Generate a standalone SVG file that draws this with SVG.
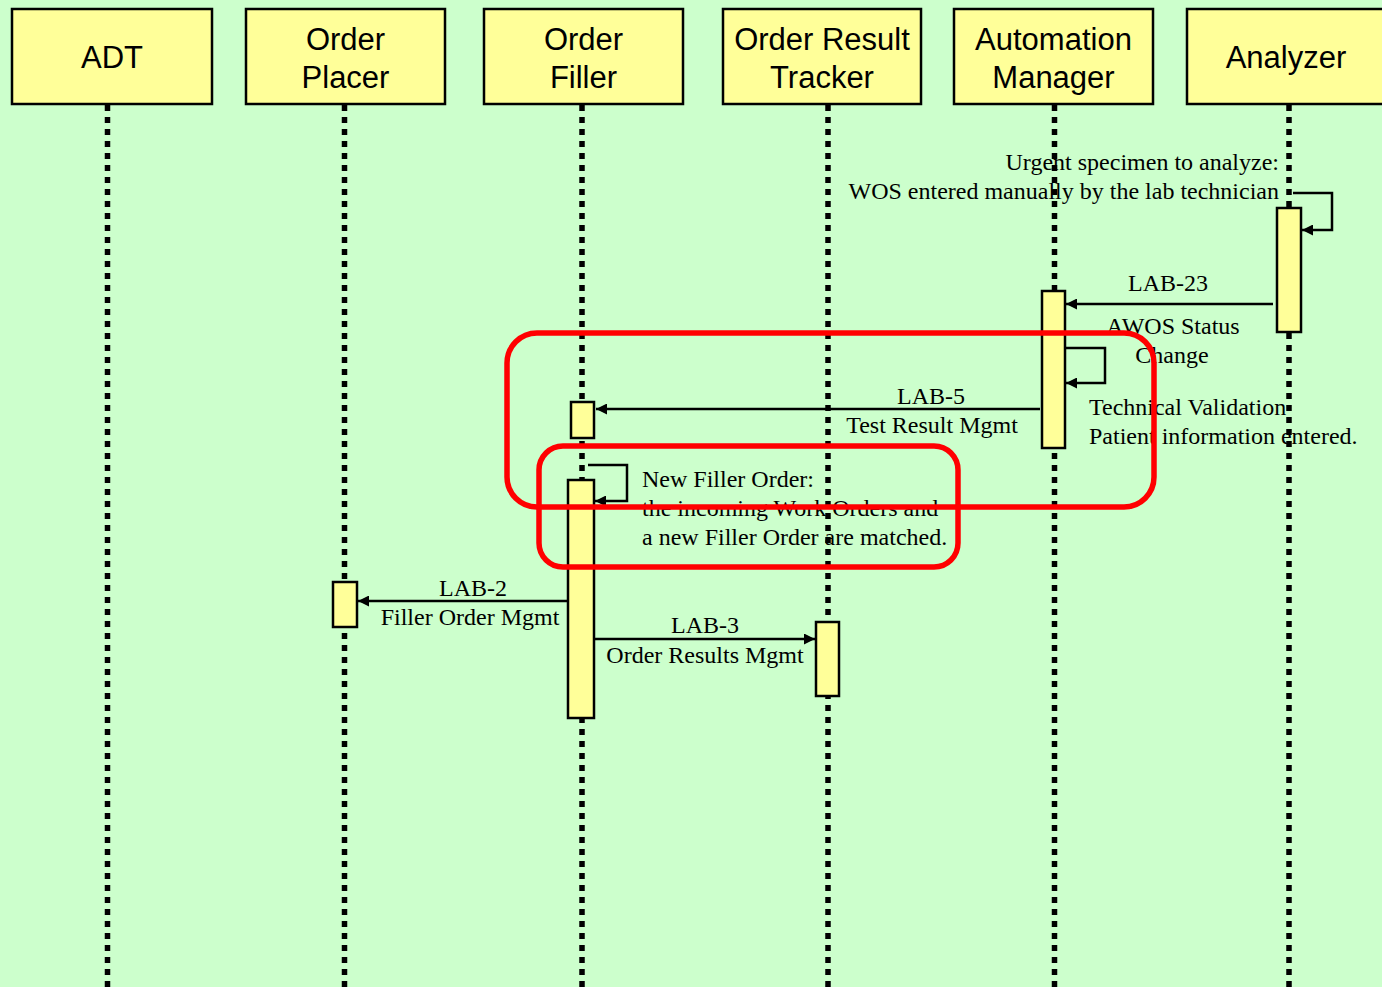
<svg xmlns="http://www.w3.org/2000/svg" width="1382" height="987" viewBox="0 0 1382 987">
<defs>
<marker id="ah" viewBox="0 0 10 10" refX="10" refY="5" markerWidth="11" markerHeight="11" markerUnits="userSpaceOnUse" orient="auto">
<path d="M0,0 L10,5 L0,10 z" fill="#000"/>
</marker>
<style>
.hdr{fill:#FFFF99;stroke:#000;stroke-width:2.5}
.ht{font-family:"Liberation Sans",Arial,sans-serif;font-size:31px;fill:#000;text-anchor:middle}
.life{stroke:#000;stroke-width:5.5;stroke-dasharray:6 6;fill:none}
.act{fill:#FFFF99;stroke:#000;stroke-width:2.5}
.msg{stroke:#000;stroke-width:2.5;fill:none;marker-end:url(#ah)}
.lt{font-family:"Liberation Serif","Times New Roman",serif;font-size:24px;fill:#000}
.c{text-anchor:middle}
.e{text-anchor:end}
.hl{fill:none;stroke:#FF0000;stroke-width:5.5}
</style>
</defs>
<rect x="0" y="0" width="1382" height="987" fill="#CCFFCC"/>

<g id="lifelines">
<line class="life" x1="107.5" y1="105" x2="107.5" y2="987"/>
<line class="life" x1="344.5" y1="105" x2="344.5" y2="987"/>
<line class="life" x1="582" y1="105" x2="582" y2="987"/>
<line class="life" x1="828" y1="105" x2="828" y2="987"/>
<line class="life" x1="1054.5" y1="105" x2="1054.5" y2="987"/>
<line class="life" x1="1289" y1="105" x2="1289" y2="987"/>
</g>

<g id="adt">
<rect class="hdr" x="12" y="9" width="200" height="95"/>
<text class="ht" x="112" y="68">ADT</text>
</g>
<g id="order-placer">
<rect class="hdr" x="246" y="9" width="199" height="95"/>
<text class="ht" x="345.5" y="50">Order</text>
<text class="ht" x="345.5" y="88">Placer</text>
</g>
<g id="order-filler">
<rect class="hdr" x="484" y="9" width="199" height="95"/>
<text class="ht" x="583.5" y="50">Order</text>
<text class="ht" x="583.5" y="88">Filler</text>
</g>
<g id="order-result-tracker">
<rect class="hdr" x="723" y="9" width="198" height="95"/>
<text class="ht" x="822" y="50">Order Result</text>
<text class="ht" x="822" y="88">Tracker</text>
</g>
<g id="automation-manager">
<rect class="hdr" x="954" y="9" width="199" height="95"/>
<text class="ht" x="1053.5" y="50">Automation</text>
<text class="ht" x="1053.5" y="88">Manager</text>
</g>
<g id="analyzer">
<rect class="hdr" x="1187" y="9" width="200" height="95"/>
<text class="ht" x="1286" y="68">Analyzer</text>
</g>

<g id="activations">
<rect class="act" x="1277" y="208" width="24" height="124"/>
<rect class="act" x="1042" y="291" width="23" height="157"/>
<rect class="act" x="571" y="402" width="23" height="36"/>
<rect class="act" x="568" y="480" width="26" height="238"/>
<rect class="act" x="333" y="582" width="24" height="45"/>
<rect class="act" x="816" y="622" width="23" height="74"/>
</g>

<g id="connectors">
<path class="msg" d="M1293,193 H1332 V230 H1302"/>
<line class="msg" x1="1273" y1="304" x2="1066" y2="304"/>
<path class="msg" d="M1066,348 H1105 V383 H1066"/>
<line class="msg" x1="1040" y1="409" x2="596" y2="409"/>
<path class="msg" d="M588,465 H627 V501 H595"/>
<line class="msg" x1="568" y1="601" x2="358" y2="601"/>
<line class="msg" x1="594" y1="639" x2="815" y2="639"/>
</g>

<g id="labels">
<text class="lt e" x="1279" y="170">Urgent specimen to analyze:</text>
<text class="lt e" x="1279" y="199">WOS entered manually by the lab technician</text>
<text class="lt c" x="1168" y="291">LAB-23</text>
<text class="lt c" x="1173" y="334">AWOS Status</text>
<text class="lt c" x="1172" y="363">Change</text>
<text class="lt" x="1089" y="415">Technical Validation</text>
<text class="lt" x="1089" y="444">Patient information entered.</text>
<text class="lt c" x="931" y="404">LAB-5</text>
<text class="lt c" x="932" y="433">Test Result Mgmt</text>
<text class="lt" x="642" y="487">New Filler Order:</text>
<text class="lt" x="642" y="516">the incoming Work Orders and</text>
<text class="lt" x="642" y="545">a new Filler Order are matched.</text>
<text class="lt c" x="473" y="596">LAB-2</text>
<text class="lt c" x="470" y="625">Filler Order Mgmt</text>
<text class="lt c" x="705" y="633">LAB-3</text>
<text class="lt c" x="705" y="663">Order Results Mgmt</text>
</g>

<g id="highlights">
<rect class="hl" x="507" y="333" width="647" height="174" rx="30" ry="30"/>
<rect class="hl" x="539" y="446" width="419" height="121" rx="24" ry="24"/>
</g>
</svg>
